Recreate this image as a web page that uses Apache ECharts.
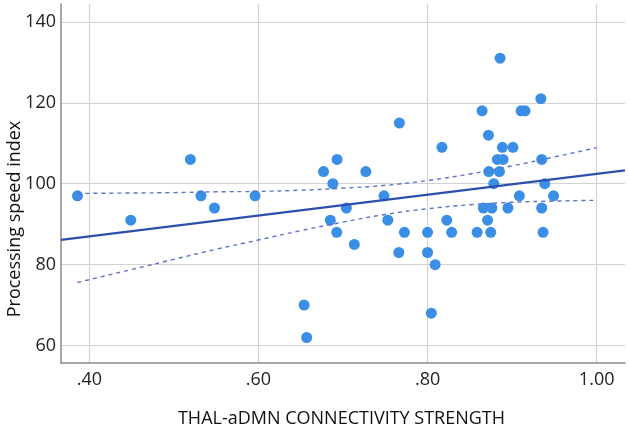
<!DOCTYPE html>
<html><head><meta charset="utf-8">
<script src="https://cdn.jsdelivr.net/npm/echarts@6/dist/echarts.min.js"></script>
<style>html,body{margin:0;padding:0;background:#fff}#c{width:629px;height:433px}</style>
</head><body><div id="c"></div>
<script>
// Scatter data: THAL-aDMN connectivity strength vs processing speed index
const xValues = [0.386,0.449,0.5195,0.532,0.548,0.596,0.654,0.657,0.677,0.685,
  0.688,0.6926,0.693,0.704,0.7134,0.727,0.7485,0.753,0.766,0.7667,
  0.7726,0.80,0.80,0.8045,0.809,0.817,0.8227,0.8285,0.8586,0.8645,
  0.866,0.871,0.872,0.8724,0.8747,0.876,0.8783,0.8826,0.885,0.8858,
  0.8885,0.8893,0.895,0.901,0.9086,0.9106,0.9153,0.934,0.935,0.935,
  0.9366,0.9386,0.949];
const yValues = [97,91,106,97,94,97,70,62,103,91,
  100,88,106,94,85,103,97,91,83,115,
  88,88,83,68,80,109,91,88,88,118,
  94,91,112,103,88,94,100,106,103,131,
  109,106,94,109,97,118,118,121,106,94,
  88,100,97];
// Linear fit line
const fitX = [0.3665, 1.0335];
const fitY = [86.1, 103.3];
// 95% confidence band
const bandX = [0.386,0.45,0.5,0.55,0.6,0.65,0.7,0.75,0.8,0.85,0.9,0.95,1.0];
const bandUpper = [97.6,97.7,97.8,98.0,98.1,98.4,98.9,99.6,100.8,102.4,104.4,106.6,108.9];
const bandLower = [75.6,78.8,81.3,83.8,86.1,88.4,90.5,92.4,93.8,94.8,95.4,95.7,95.9];
// Ticks
const xTicks = [0.4,0.6,0.8,1.0];
const xTickLabels = ['.40','.60','.80','1.00'];
const yTicks = [60,80,100,120,140];
const yTickLabels = ['60','80','100','120','140'];
const xTitle = 'THAL-aDMN CONNECTIVITY STRENGTH';
const yTitle = 'Processing speed index';

const FONT = 'Open Sans';
function lab(ticks, labels){
  return v => { const i = ticks.findIndex(t => Math.abs(t - v) < 1e-6); return i >= 0 ? labels[i] : ''; };
}
const chart = echarts.init(document.getElementById('c'), null, {renderer:'canvas'});
chart.setOption({
  animation:false,
  backgroundColor:'#ffffff',
  grid:{left:61,right:4,top:4,bottom:70,containLabel:false},
  xAxis:{
    type:'value', min:0.3665, max:1.0335,
    axisLine:{show:true,onZero:false,lineStyle:{color:'#8a8a8a',width:1.5}},
    axisTick:{show:false,customValues:xTicks},
    axisLabel:{customValues:xTicks,formatter:lab(xTicks,xTickLabels),color:'#222',fontSize:18,fontFamily:FONT,margin:8},
    splitLine:{show:true,lineStyle:{color:'#d2d2d2',width:1.2}}
  },
  yAxis:{
    type:'value', min:55.7, max:144.4,
    axisLine:{show:true,onZero:false,lineStyle:{color:'#8a8a8a',width:1.5}},
    axisTick:{show:false,customValues:yTicks},
    axisLabel:{customValues:yTicks,formatter:lab(yTicks,yTickLabels),color:'#222',fontSize:18,fontFamily:FONT,margin:5},
    splitLine:{show:true,lineStyle:{color:'#d2d2d2',width:1.2}}
  },
  graphic:[
    {type:'text',x:341.5,y:419,style:{text:xTitle,font:'18px "Open Sans"',fill:'#111',textAlign:'center',textVerticalAlign:'middle'}},
    {type:'text',rotation:Math.PI/2,x:15,y:219,style:{text:yTitle,font:'18px "Open Sans"',fill:'#111',textAlign:'center',textVerticalAlign:'middle'}}
  ],
  series:[
    {type:'scatter',data:xValues.map((x,i)=>[x,yValues[i]]),symbolSize:11,
      itemStyle:{color:'#3a8ee6',opacity:1},z:2},
    {type:'line',data:fitX.map((x,i)=>[x,fitY[i]]),showSymbol:false,symbol:'none',
      lineStyle:{color:'#2e4fae',width:2.2},z:3},
    {type:'line',data:bandX.map((x,i)=>[x,bandUpper[i]]),showSymbol:false,symbol:'none',smooth:true,
      lineStyle:{color:'#5b72c6',width:1.4,type:[4,4]},z:3},
    {type:'line',data:bandX.map((x,i)=>[x,bandLower[i]]),showSymbol:false,symbol:'none',smooth:true,
      lineStyle:{color:'#5b72c6',width:1.4,type:[4,4]},z:3}
  ]
});
</script>
</body></html>
